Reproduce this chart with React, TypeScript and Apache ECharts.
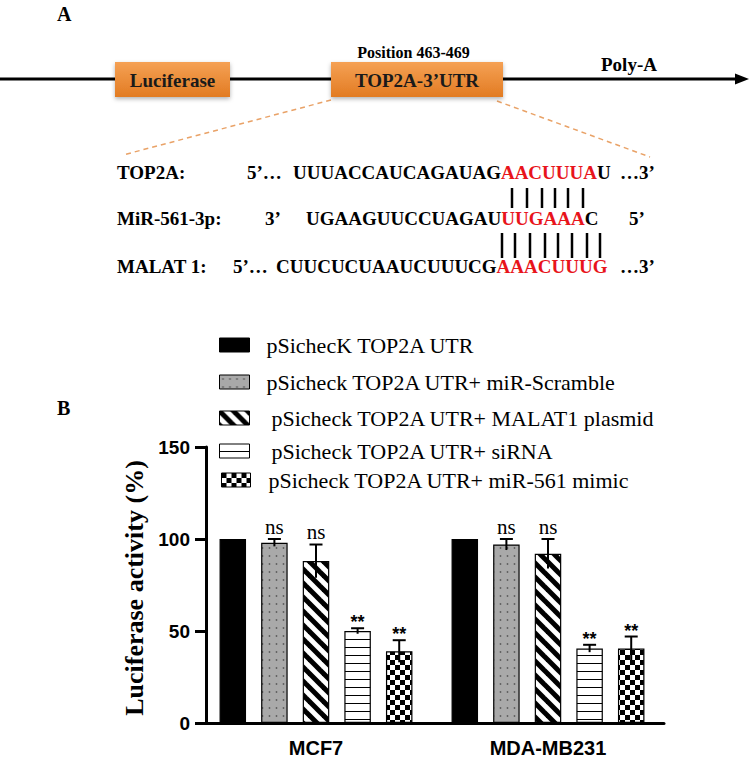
import React, { useEffect, useRef } from 'react';
import * as echarts from 'echarts';

// ---------- data ----------
const categories = ['MCF7', 'MDA-MB231'];
const seriesNames = [
  'pSichecK TOP2A UTR',
  'pSicheck TOP2A UTR+ miR-Scramble',
  'pSicheck TOP2A UTR+ MALAT1 plasmid',
  'pSicheck TOP2A UTR+ siRNA',
  'pSicheck TOP2A UTR+ miR-561 mimic',
];
const meanControl = [100, 100];
const meanScramble = [98, 97];
const meanMalat = [88, 92];
const meanSiRNA = [50, 40.5];
const meanMimic = [39, 40.5];
const errControl = [0, 0];
const errScramble = [2, 3];
const errMalat = [9, 8];
const errSiRNA = [1.5, 2];
const errMimic = [6, 6.5];
const sigControl = ['', ''];
const sigScramble = ['ns', 'ns'];
const sigMalat = ['ns', 'ns'];
const sigSiRNA = ['**', '**'];
const sigMimic = ['**', '**'];
const yMin = 0;
const yMax = 150;
const yInterval = 50;
const yAxisTitle = 'Luciferase activity (%)';

// Panel A texts
const boxLabels = ['Luciferase', 'TOP2A-3’UTR'];
const positionLabel = 'Position 463-469';
const polyALabel = 'Poly-A';
const seqRowLabels = ['TOP2A:', 'MiR-561-3p:', 'MALAT 1:'];
const seqPrimeStart = ['5’…', '3’', '5’…'];
const seqBlackPre = ['UUUACCAUCAGAUAG', 'UGAAGUUCCUAGAU', 'CUUCUCUAAUCUUUCG'];
const seqRed = ['AACUUUA', 'UUGAAA', 'AAACUUUG'];
const seqBlackPost = ['U', 'C', ''];
const seqPrimeEnd = ['…3’', '5’', '…3’'];

// ---------- layout constants ----------
const BAR_W = 26.5;
const BAR_GAP_RATIO = 0.57;
const SERIF = 'Liberation Serif';
const SANS = 'Liberation Sans';

function makeCanvas(w: number, h: number, draw: (ctx: CanvasRenderingContext2D) => void) {
  const c = document.createElement('canvas');
  c.width = w;
  c.height = h;
  const ctx = c.getContext('2d')!;
  draw(ctx);
  return c;
}

export default function App() {
  const ref = useRef<HTMLDivElement>(null);

  useEffect(() => {
    const chart = echarts.init(ref.current!, null, { renderer: 'svg' });

    const dotCanvas = makeCanvas(7, 8, (ctx) => {
      ctx.fillStyle = '#a9a9a9';
      ctx.fillRect(0, 0, 7, 8);
      ctx.fillStyle = '#5e5e5e';
      ctx.beginPath();
      ctx.arc(3.5, 4, 0.9, 0, Math.PI * 2);
      ctx.fill();
    });
    const diagCanvas = makeCanvas(14, 14, (ctx) => {
      ctx.fillStyle = '#fff';
      ctx.fillRect(0, 0, 14, 14);
      ctx.strokeStyle = '#000';
      ctx.lineWidth = 5;
      for (const k of [-14, 0, 14]) {
        ctx.beginPath();
        ctx.moveTo(k - 2, -2);
        ctx.lineTo(k + 16, 16);
        ctx.stroke();
      }
    });
    const hlineCanvas = makeCanvas(8, 8, (ctx) => {
      ctx.fillStyle = '#fff';
      ctx.fillRect(0, 0, 8, 8);
      ctx.fillStyle = '#000';
      ctx.fillRect(0, 7, 8, 1.3);
    });
    const checkCanvas = makeCanvas(10, 10, (ctx) => {
      ctx.fillStyle = '#fff';
      ctx.fillRect(0, 0, 10, 10);
      ctx.fillStyle = '#000';
      ctx.fillRect(0, 0, 5, 5);
      ctx.fillRect(5, 5, 5, 5);
    });

    const fills: any[] = [
      '#000',
      { image: dotCanvas, repeat: 'repeat' },
      { image: diagCanvas, repeat: 'repeat' },
      { image: hlineCanvas, repeat: 'repeat' },
      { image: checkCanvas, repeat: 'repeat' },
    ];
    const means = [meanControl, meanScramble, meanMalat, meanSiRNA, meanMimic];
    const errs = [errControl, errScramble, errMalat, errSiRNA, errMimic];
    const sigs = [sigControl, sigScramble, sigMalat, sigSiRNA, sigMimic];

    const barSeries = seriesNames.map((name, i) => ({
      name,
      type: 'bar',
      data: means[i],
      barWidth: BAR_W,
      barGap: BAR_GAP_RATIO * 100 + '%',
      itemStyle: { color: fills[i], borderColor: '#000', borderWidth: 1.2 },
      emphasis: { disabled: true },
    }));

    const errData: any[] = [];
    const errLabels: string[] = [];
    means.forEach((m, s) => {
      m.forEach((v, c) => {
        errData.push([c, v, errs[s][c], s]);
        errLabels.push(sigs[s][c]);
      });
    });

    const errorSeries = {
      type: 'custom',
      data: errData,
      encode: { x: 0, y: 1 },
      z: 5,
      silent: true,
      renderItem: (params: any, api: any) => {
        const cat = api.value(0);
        const mean = api.value(1);
        const err = api.value(2);
        const s = api.value(3);
        const center = api.coord([cat, mean]);
        const x = center[0] + (s - 2) * BAR_W * (1 + BAR_GAP_RATIO);
        const top = api.coord([cat, mean + err])[1];
        const bot = api.coord([cat, mean - err])[1];
        const children: any[] = [];
        if (err > 0) {
          children.push({
            type: 'line',
            shape: { x1: x, y1: top, x2: x, y2: bot },
            style: { stroke: '#000', lineWidth: 2 },
          });
          children.push({
            type: 'line',
            shape: { x1: x - 6.5, y1: top, x2: x + 6.5, y2: top },
            style: { stroke: '#000', lineWidth: 2 },
          });
        }
        const lab = errLabels[params.dataIndex];
        if (lab) {
          const isStar = lab.indexOf('*') >= 0;
          children.push({
            type: 'text',
            style: {
              text: lab,
              x,
              y: isStar ? top + 3 : top - 2,
              align: 'center',
              verticalAlign: 'bottom',
              fill: '#000',
              fontFamily: isStar ? SANS : SERIF,
              fontSize: isStar ? 18 : 21,
              fontWeight: isStar ? 'bold' : 'normal',
            },
          });
        }
        return { type: 'group', children };
      },
    };

    // legends (one per row)
    const legendCenters = [345, 382, 418, 451, 480];
    const legendLefts = [219, 219, 219, 219, 221];
    const legendTextPad = [12, 12, 17, 17, 13];
    const legendItemW = [30, 30, 30, 30, 29];
    const legends = seriesNames.map((n, i) => ({
      data: [n],
      left: legendLefts[i],
      top: legendCenters[i] - 11,
      padding: 0,
      itemWidth: legendItemW[i],
      itemHeight: 14,
      icon: 'rect',
      selectedMode: false,
      itemStyle: { borderColor: '#000', borderWidth: 1 },
      formatter: '{t|{name}}',
      textStyle: {
        fontFamily: SERIF,
        fontSize: 22,
        color: '#000',
        rich: {
          t: {
            fontFamily: SERIF,
            fontSize: 22,
            color: '#000',
            padding: [0, 0, 0, legendTextPad[i]],
          },
        },
      },
    }));

    const orange = new echarts.graphic.LinearGradient(0, 0, 0, 1, [
      { offset: 0, color: '#F5A154' },
      { offset: 1, color: '#E27B22' },
    ]);
    const boxShadow = { shadowBlur: 4, shadowOffsetY: 2, shadowColor: 'rgba(0,0,0,0.3)' };

    const SEQ_FONT = 19;
    const seqRowsY = [172, 218, 266];
    const seqLabelX = 117;
    const primeStartX = [247, 265, 233];
    const seqStartX = [293, 306, 276];
    const primeEndX = [620, 629, 620];
    const tokenStyle = (fill: string) => ({
      fill,
      fontFamily: SERIF,
      fontWeight: 'bold',
      fontSize: SEQ_FONT,
    });

    const seqElements: any[] = [];
    seqRowLabels.forEach((lab, r) => {
      const y = seqRowsY[r];
      const mk = (text: string, x: number) => ({
        type: 'text',
        x,
        y,
        style: {
          text,
          fill: '#000',
          fontFamily: SERIF,
          fontWeight: 'bold',
          fontSize: SEQ_FONT,
          align: 'left',
          verticalAlign: 'middle',
        },
      });
      seqElements.push(mk(lab, seqLabelX));
      seqElements.push(mk(seqPrimeStart[r], primeStartX[r]));
      let rich = `{b|${seqBlackPre[r]}}{r|${seqRed[r]}}`;
      if (seqBlackPost[r]) rich += `{b|${seqBlackPost[r]}}`;
      seqElements.push({
        type: 'text',
        x: seqStartX[r],
        y,
        style: {
          text: rich,
          fill: '#000',
          fontFamily: SERIF,
          fontWeight: 'bold',
          fontSize: SEQ_FONT,
          align: 'left',
          verticalAlign: 'middle',
          rich: { b: tokenStyle('#000'), r: tokenStyle('#E8141B') },
        },
      });
      seqElements.push(mk(seqPrimeEnd[r], primeEndX[r]));
    });

    const pair1X = [512, 527, 542, 555, 568, 583];
    const pair2X = [502, 515, 530, 545, 558, 572, 587, 600];
    const pairLines: any[] = [];
    pair1X.forEach((x) =>
      pairLines.push({
        type: 'line',
        shape: { x1: x, y1: 188, x2: x, y2: 208 },
        style: { stroke: '#000', lineWidth: 2.5 },
      })
    );
    pair2X.forEach((x) =>
      pairLines.push({
        type: 'line',
        shape: { x1: x, y1: 233, x2: x, y2: 258 },
        style: { stroke: '#000', lineWidth: 2.5 },
      })
    );

    const txt = (text: string, x: number, y: number, size: number, align = 'left', fill = '#000') => ({
      type: 'text',
      x,
      y,
      style: { text, fill, fontFamily: SERIF, fontWeight: 'bold', fontSize: size, align, verticalAlign: 'middle' },
    });

    const graphicElements: any[] = [
      txt('A', 57, 14, 20),
      {
        type: 'line',
        shape: { x1: 0, y1: 79, x2: 740, y2: 79 },
        style: { stroke: '#000', lineWidth: 3 },
      },
      {
        type: 'polygon',
        shape: { points: [[735, 73.5], [749, 79], [735, 84.5]] },
        style: { fill: '#000' },
      },
      {
        type: 'line',
        shape: { x1: 331, y1: 100, x2: 123, y2: 155 },
        style: { stroke: '#E9A267', lineWidth: 1.5, lineDash: [5, 4] },
      },
      {
        type: 'line',
        shape: { x1: 497, y1: 101, x2: 650, y2: 157 },
        style: { stroke: '#E9A267', lineWidth: 1.5, lineDash: [5, 4] },
      },
      {
        type: 'rect',
        shape: { x: 115, y: 62, width: 115, height: 35 },
        style: { fill: orange, ...boxShadow },
      },
      {
        type: 'rect',
        shape: { x: 331, y: 62, width: 172, height: 35 },
        style: { fill: orange, ...boxShadow },
      },
      txt(boxLabels[0], 172.5, 80, 19, 'center', '#1a1a1a'),
      txt(boxLabels[1], 417, 80, 19, 'center', '#1a1a1a'),
      txt(positionLabel, 413.5, 52, 16, 'center'),
      txt(polyALabel, 601, 64, 19),
      ...seqElements,
      ...pairLines,
      txt('B', 57, 408, 20),
    ];

    const option: any = {
      animation: false,
      backgroundColor: '#fff',
      textStyle: { fontFamily: SERIF },
      legend: legends,
      grid: { left: 200, top: 447, width: 464, height: 276, containLabel: false },
      xAxis: {
        type: 'category',
        data: categories,
        axisLine: { lineStyle: { color: '#000', width: 3 } },
        axisTick: { alignWithLabel: true, length: 12, lineStyle: { color: '#000', width: 3 } },
        axisLabel: { margin: 15, color: '#000', fontFamily: SANS, fontWeight: 'bold', fontSize: 20 },
        splitLine: { show: false },
      },
      yAxis: {
        type: 'value',
        min: yMin,
        max: yMax,
        interval: yInterval,
        offset: -6,
        name: yAxisTitle,
        nameLocation: 'middle',
        nameRotate: 90,
        nameGap: 58,
        nameTextStyle: { fontFamily: SERIF, fontWeight: 'bold', fontSize: 26, color: '#000', padding: [0, 6, 0, 0] },
        axisLine: { show: true, lineStyle: { color: '#000', width: 3 } },
        axisTick: { show: true, length: 11, lineStyle: { color: '#000', width: 3 } },
        axisLabel: { margin: 16, color: '#000', fontFamily: SANS, fontWeight: 'bold', fontSize: 19 },
        splitLine: { show: false },
      },
      series: [...barSeries, errorSeries],
      graphic: { elements: graphicElements },
    };

    chart.setOption(option);
    return () => chart.dispose();
  }, []);

  return (
    <div
      ref={ref}
      style={{ position: 'absolute', left: 0, top: 0, width: 751, height: 762, background: '#fff' }}
    />
  );
}
